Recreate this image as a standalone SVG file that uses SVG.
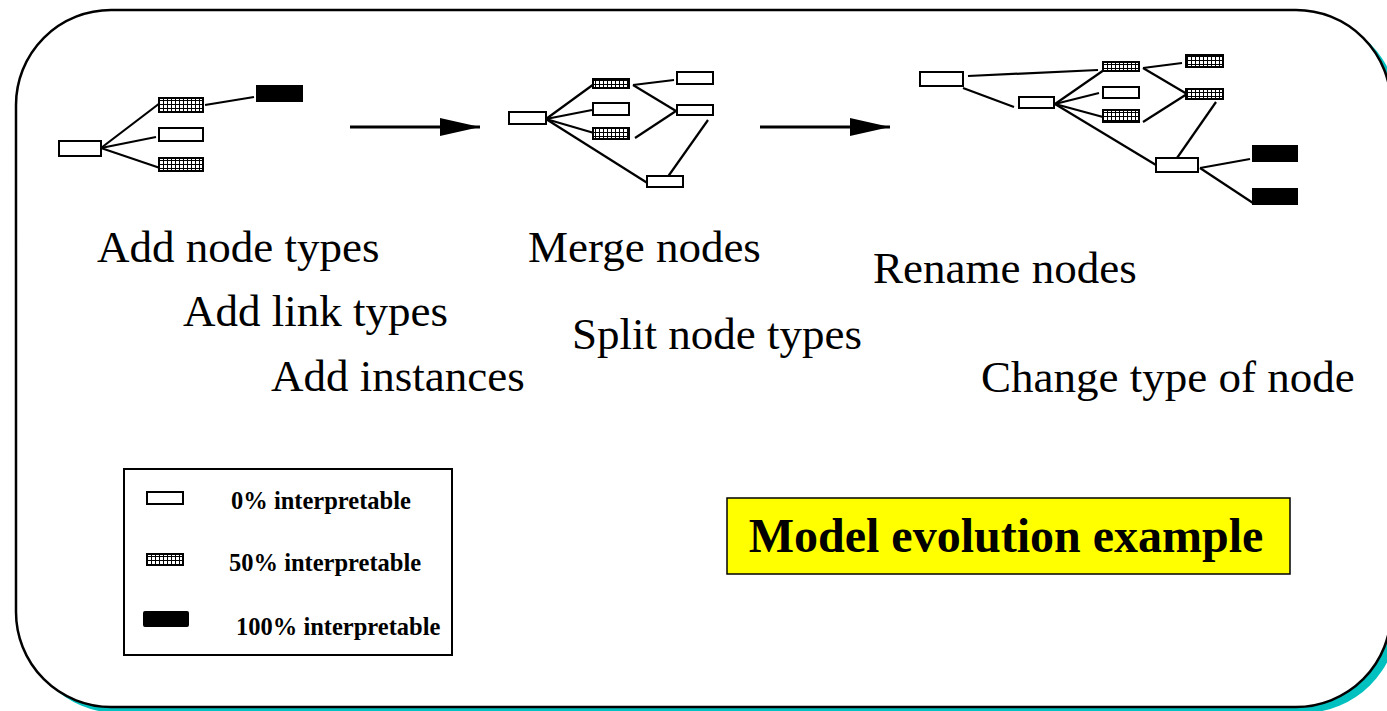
<svg xmlns="http://www.w3.org/2000/svg" width="1387" height="711" viewBox="0 0 1387 711">
  <style>
    .lbl { font-family: "Liberation Serif", "Times New Roman", serif; font-size: 45px; fill: #000; }
    .leg { font-family: "Liberation Serif", "Times New Roman", serif; font-size: 24.5px; font-weight: bold; fill: #000; }
    .box0 { fill: #fff; stroke: #000; stroke-width: 2; }
    .box50 { fill: url(#dots); stroke: #000; stroke-width: 2; }
    .box100 { fill: #000; stroke: #000; stroke-width: 2; }
    .link { stroke: #000; stroke-width: 2.2; fill: none; }
  </style>
  <defs>
    <!-- speckled fill for half-interpretable nodes: white cells on a black grid -->
    <pattern id="dots" width="4" height="4" patternUnits="userSpaceOnUse">
      <rect width="4" height="4" fill="#000"/>
      <rect x="0" y="1" width="3" height="3" fill="#fff"/>
    </pattern>
    <marker id="head" viewBox="0 0 40 18" refX="40" refY="9" markerWidth="40" markerHeight="18" markerUnits="userSpaceOnUse" orient="auto">
      <path d="M0,0 L40,9 L0,18 Z" fill="#000"/>
    </marker>
  </defs>

  <!-- background panel with teal drop shadow -->
  <rect x="0" y="0" width="1387" height="711" fill="#fff"/>
  <rect id="panel-shadow" x="23" y="16" width="1375" height="697" rx="95" ry="95" fill="#00C0C0"/>
  <rect id="panel" x="16" y="10" width="1375" height="697" rx="95" ry="95" fill="#fff" stroke="#000" stroke-width="2.5"/>

  <!-- connectors -->
  <g id="connectors" class="link">
    <!-- stage 1 -->
    <line x1="101" y1="148" x2="160" y2="103"/>
    <line x1="101" y1="148" x2="156" y2="137"/>
    <line x1="101" y1="148" x2="160" y2="168"/>
    <line x1="205" y1="105" x2="254" y2="97"/>
    <!-- stage 2 -->
    <line x1="546" y1="119" x2="594" y2="84"/>
    <line x1="546" y1="119" x2="592" y2="110"/>
    <line x1="546" y1="119" x2="594" y2="133"/>
    <line x1="546" y1="119" x2="649" y2="184"/>
    <line x1="633" y1="85" x2="674" y2="80"/>
    <line x1="633" y1="85" x2="676" y2="111"/>
    <line x1="635" y1="138" x2="676" y2="111"/>
    <line x1="708" y1="120" x2="667" y2="178"/>
    <!-- stage 3 -->
    <line x1="968" y1="76" x2="1098" y2="70"/>
    <line x1="963" y1="88" x2="1014" y2="107"/>
    <line x1="1055" y1="104" x2="1104" y2="70"/>
    <line x1="1055" y1="104" x2="1099" y2="93"/>
    <line x1="1055" y1="104" x2="1103" y2="117"/>
    <line x1="1055" y1="104" x2="1156" y2="165"/>
    <line x1="1143" y1="68" x2="1182" y2="63"/>
    <line x1="1143" y1="68" x2="1187" y2="94"/>
    <line x1="1143" y1="122" x2="1187" y2="94"/>
    <line x1="1216" y1="102" x2="1177" y2="158"/>
    <line x1="1200" y1="168" x2="1250" y2="159"/>
    <line x1="1200" y1="168" x2="1253" y2="203"/>
    <!-- stage arrows -->
    <line x1="350" y1="127" x2="480" y2="127" stroke-width="3" marker-end="url(#head)"/>
    <line x1="760" y1="127" x2="890" y2="127" stroke-width="3" marker-end="url(#head)"/>
  </g>

  <!-- stage 1 nodes -->
  <g id="s1-root"><rect class="box0" x="59" y="141" width="42" height="15"/></g>
  <g id="s1-a"><rect class="box50" x="159" y="98" width="44" height="14"/></g>
  <g id="s1-b"><rect class="box0" x="159" y="128" width="44" height="13"/></g>
  <g id="s1-c"><rect class="box50" x="159" y="158" width="44" height="13"/></g>
  <g id="s1-d"><rect class="box100" x="257" y="86" width="45" height="15"/></g>

  <!-- stage 2 nodes -->
  <g id="s2-root"><rect class="box0" x="509" y="112" width="37" height="12"/></g>
  <g id="s2-a"><rect class="box50" x="593" y="79" width="36" height="9"/></g>
  <g id="s2-b"><rect class="box0" x="593" y="103" width="36" height="12"/></g>
  <g id="s2-c"><rect class="box50" x="593" y="128" width="36" height="11"/></g>
  <g id="s2-d"><rect class="box0" x="677" y="72" width="36" height="12"/></g>
  <g id="s2-e"><rect class="box0" x="677" y="105" width="36" height="10"/></g>
  <g id="s2-f"><rect class="box0" x="647" y="176" width="36" height="11"/></g>

  <!-- stage 3 nodes -->
  <g id="s3-a"><rect class="box0" x="920" y="72" width="43" height="14"/></g>
  <g id="s3-b"><rect class="box0" x="1019" y="97" width="35" height="11"/></g>
  <g id="s3-c"><rect class="box50" x="1103" y="62" width="36" height="9"/></g>
  <g id="s3-d"><rect class="box0" x="1103" y="87" width="36" height="11"/></g>
  <g id="s3-e"><rect class="box50" x="1103" y="110" width="36" height="12"/></g>
  <g id="s3-f"><rect class="box50" x="1186" y="55" width="37" height="12"/></g>
  <g id="s3-g"><rect class="box50" x="1186" y="89" width="37" height="10"/></g>
  <g id="s3-h"><rect class="box0" x="1156" y="158" width="42" height="14"/></g>
  <g id="s3-i"><rect class="box100" x="1253" y="146" width="44" height="15"/></g>
  <g id="s3-j"><rect class="box100" x="1253" y="189" width="44" height="15"/></g>

  <!-- operation captions -->
  <g id="captions">
    <text class="lbl" x="97" y="262">Add node types</text>
    <text class="lbl" x="183" y="326">Add link types</text>
    <text class="lbl" x="271" y="391">Add instances</text>
    <text class="lbl" x="528" y="262">Merge nodes</text>
    <text class="lbl" x="572" y="349">Split node types</text>
    <text class="lbl" x="873" y="283">Rename nodes</text>
    <text class="lbl" x="981" y="392">Change type of node</text>
  </g>

  <!-- legend -->
  <g id="legend">
    <rect x="124" y="469" width="328" height="186" fill="#fff" stroke="#000" stroke-width="2"/>
    <rect class="box0" x="147" y="492" width="36" height="12"/>
    <rect class="box50" x="147" y="554" width="36" height="11"/>
    <rect class="box100" x="144" y="612" width="44" height="14" rx="1"/>
    <text class="leg" x="231" y="509">0% interpretable</text>
    <text class="leg" x="229" y="571">50% interpretable</text>
    <text class="leg" x="236" y="635">100% interpretable</text>
  </g>

  <!-- title -->
  <g id="title">
    <rect x="727" y="498" width="563" height="76" fill="#FFFF00" stroke="#000" stroke-width="1.5"/>
    <text x="1006" y="552" text-anchor="middle" font-family="'Liberation Serif', 'Times New Roman', serif" font-size="48" font-weight="bold" fill="#000">Model evolution example</text>
  </g>
</svg>
